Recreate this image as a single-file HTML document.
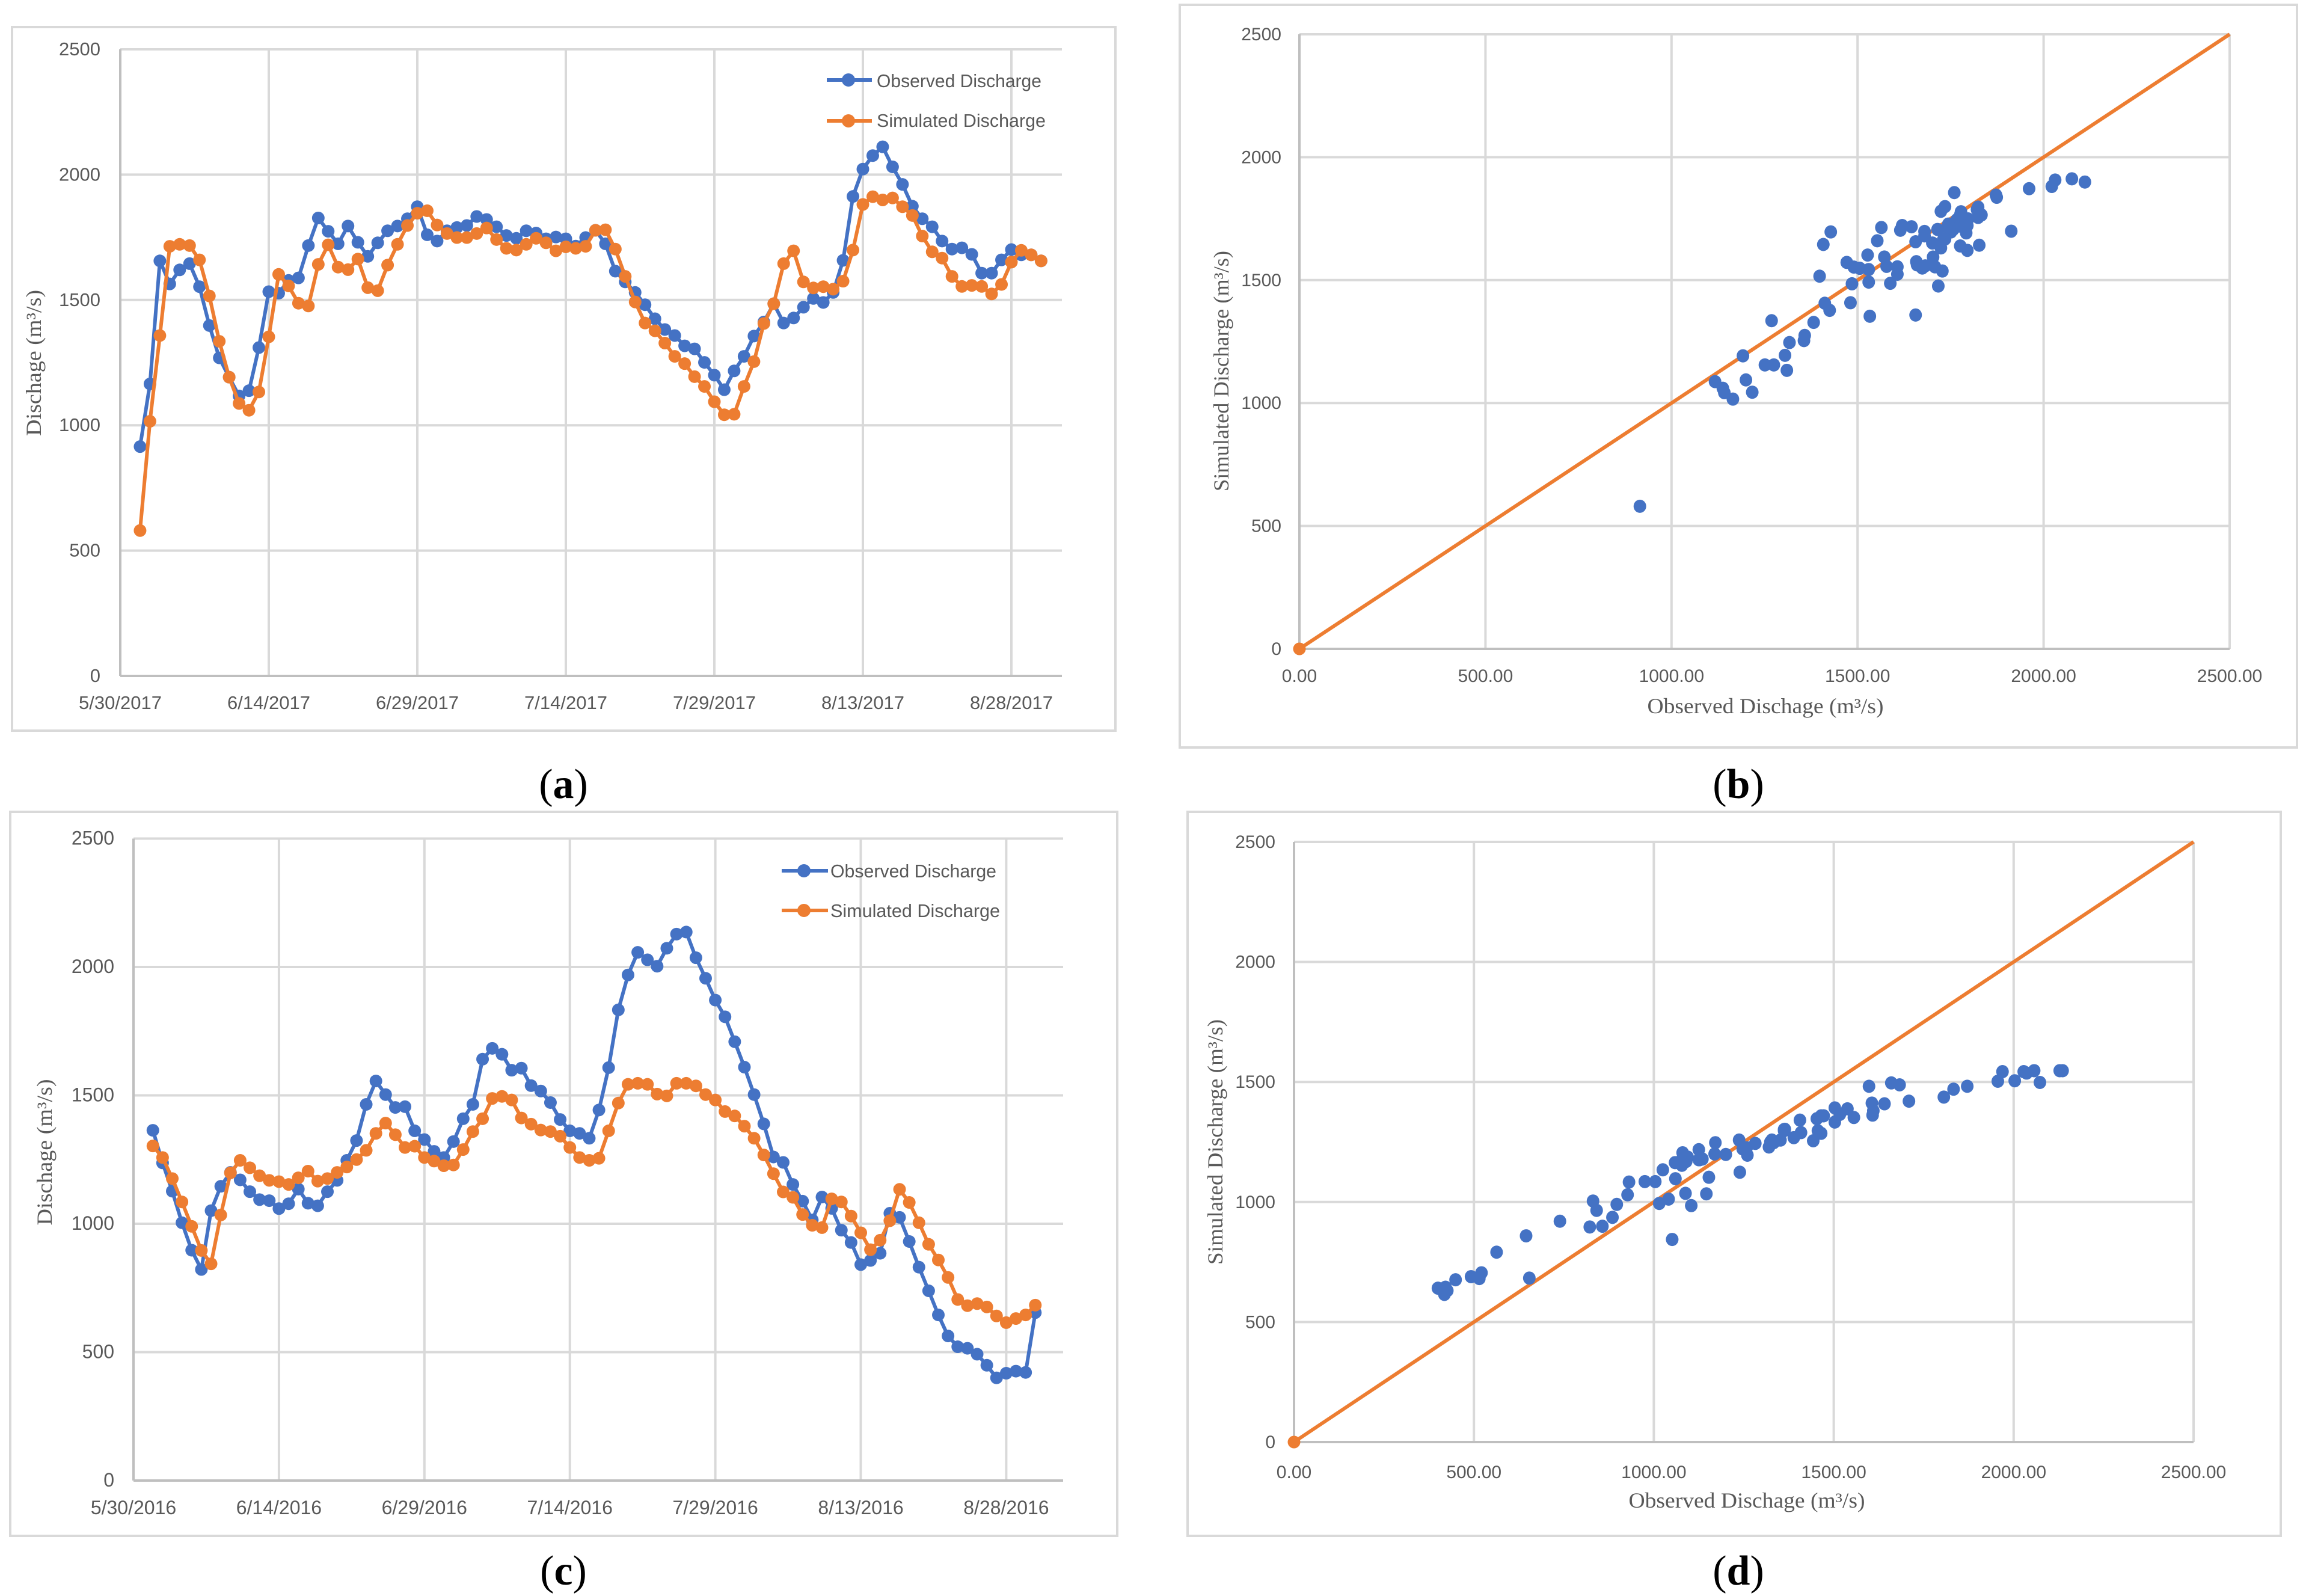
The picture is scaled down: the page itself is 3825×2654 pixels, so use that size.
<!DOCTYPE html>
<html lang="en">
<head>
<meta charset="utf-8">
<title>Observed and simulated discharge charts</title>
<style>
html,body{margin:0;padding:0;background:#fff;}
#figure{display:block;}
.tick{font-family:"Liberation Sans",sans-serif;fill:#595959;}
.axis-title{font-family:"Liberation Serif",serif;font-size:36px;fill:#595959;}
.legend-text{font-family:"Liberation Sans",sans-serif;font-size:31px;fill:#595959;}
.caption{font-family:"Liberation Serif",serif;font-size:70px;fill:#000;}
</style>
</head>
<body>
<svg id="figure" xmlns="http://www.w3.org/2000/svg" width="3825" height="2654" viewBox="0 0 3825 2654">
<rect x="0" y="0" width="3825" height="2654" fill="#fff"/>

<g id="panel-a">
<rect x="20" y="45" width="1835" height="1170" fill="#fff" stroke="#D9D9D9" stroke-width="4"/>
<text class="axis-title" transform="translate(68 603.5) rotate(-90)" text-anchor="middle" textLength="243" lengthAdjust="spacingAndGlyphs">Dischage (m³/s)</text>
<g id="panel-a-marks"></g>
<g>
<g>
<line x1="1375" x2="1450" y1="133" y2="133" stroke="#4472C4" stroke-width="6"/><circle cx="1411" cy="133" r="11" fill="#4472C4"/>
<text class="legend-text" x="1458" y="145" textLength="274" lengthAdjust="spacingAndGlyphs">Observed Discharge</text></g>
<g>
<line x1="1375" x2="1450" y1="201" y2="201" stroke="#ED7D31" stroke-width="6"/><circle cx="1411" cy="201" r="11" fill="#ED7D31"/>
<text class="legend-text" x="1458" y="211" textLength="281" lengthAdjust="spacingAndGlyphs">Simulated Discharge</text></g>
</g>
<text class="caption" x="937" y="1327" text-anchor="middle">(<tspan font-weight="bold">a</tspan>)</text>
</g>

<g id="panel-b">
<rect x="1962" y="8" width="1858" height="1235" fill="#fff" stroke="#D9D9D9" stroke-width="4"/>
<text class="axis-title" transform="translate(2043 617) rotate(-90)" text-anchor="middle" textLength="400" lengthAdjust="spacingAndGlyphs">Simulated Discharge (m³/s)</text>
<text class="axis-title" x="2936" y="1186" text-anchor="middle" textLength="393" lengthAdjust="spacingAndGlyphs">Observed Dischage (m³/s)</text>
<g id="panel-b-marks"></g>
<text class="caption" x="2891" y="1327" text-anchor="middle">(<tspan font-weight="bold">b</tspan>)</text>
</g>

<g id="panel-c">
<rect x="17" y="1350" width="1841" height="1204" fill="#fff" stroke="#D9D9D9" stroke-width="4"/>
<text class="axis-title" transform="translate(86 1916) rotate(-90)" text-anchor="middle" textLength="243" lengthAdjust="spacingAndGlyphs">Dischage (m³/s)</text>
<g id="panel-c-marks"></g>
<g>
<g>
<line x1="1300" x2="1377" y1="1448" y2="1448" stroke="#4472C4" stroke-width="6"/><circle cx="1337" cy="1448" r="11" fill="#4472C4"/>
<text class="legend-text" x="1381" y="1459" textLength="276" lengthAdjust="spacingAndGlyphs">Observed Discharge</text></g>
<g>
<line x1="1300" x2="1377" y1="1514" y2="1514" stroke="#ED7D31" stroke-width="6"/><circle cx="1337" cy="1514" r="11" fill="#ED7D31"/>
<text class="legend-text" x="1381" y="1525" textLength="282" lengthAdjust="spacingAndGlyphs">Simulated Discharge</text></g>
</g>
<text class="caption" x="937" y="2635" text-anchor="middle">(<tspan font-weight="bold">c</tspan>)</text>
</g>

<g id="panel-d">
<rect x="1975" y="1350" width="1818" height="1204" fill="#fff" stroke="#D9D9D9" stroke-width="4"/>
<text class="axis-title" transform="translate(2033 1899) rotate(-90)" text-anchor="middle" textLength="408" lengthAdjust="spacingAndGlyphs">Simulated Discharge (m³/s)</text>
<text class="axis-title" x="2905" y="2507" text-anchor="middle" textLength="393" lengthAdjust="spacingAndGlyphs">Observed Dischage (m³/s)</text>
<g id="panel-d-marks"></g>
<text class="caption" x="2891" y="2635" text-anchor="middle">(<tspan font-weight="bold">d</tspan>)</text>
</g>
</svg>

<script>
var observed2017 = [915,1165,1656,1564,1620,1645,1553,1398,1269,1192,1117,1138,1310,1533,1527,1578,1588,1717,1827,1774,1724,1795,1730,1674,1728,1776,1795,1824,1872,1760,1735,1776,1789,1797,1833,1821,1792,1757,1746,1776,1767,1744,1751,1744,1715,1749,1778,1724,1615,1572,1530,1481,1425,1382,1358,1317,1305,1251,1200,1142,1217,1275,1356,1412,1485,1408,1428,1471,1506,1490,1530,1658,1913,2022,2076,2111,2031,1961,1874,1824,1792,1735,1703,1708,1682,1607,1607,1660,1701,1680,1680,1656];
var simulated2017 = [580,1016,1358,1714,1722,1717,1660,1516,1335,1192,1087,1060,1133,1353,1602,1556,1487,1476,1642,1720,1631,1621,1663,1549,1537,1639,1722,1797,1846,1856,1799,1765,1749,1749,1765,1787,1741,1706,1699,1722,1746,1728,1696,1712,1706,1714,1778,1780,1703,1594,1492,1408,1377,1328,1275,1246,1194,1155,1094,1042,1044,1155,1254,1406,1485,1645,1696,1572,1548,1553,1543,1575,1699,1881,1912,1899,1907,1872,1837,1755,1692,1667,1594,1554,1558,1554,1524,1562,1651,1698,1680,1656];
var observed2016 = [1364,1237,1127,1004,897,822,1051,1146,1200,1171,1125,1094,1090,1059,1078,1135,1080,1070,1125,1169,1247,1324,1465,1556,1503,1453,1456,1362,1328,1282,1258,1320,1409,1465,1641,1683,1660,1598,1606,1538,1517,1472,1406,1362,1352,1333,1443,1608,1833,1969,2057,2028,2003,2073,2128,2136,2036,1956,1871,1806,1709,1610,1503,1389,1260,1239,1153,1088,1015,1104,1060,975,927,841,857,885,1041,1025,931,831,739,645,563,521,515,492,449,400,418,426,421,654];
var simulated2016 = [1303,1258,1176,1085,990,896,844,1034,1198,1247,1218,1187,1169,1164,1153,1179,1205,1166,1176,1200,1221,1250,1286,1352,1392,1347,1297,1302,1258,1244,1226,1229,1289,1359,1409,1488,1496,1482,1412,1388,1365,1359,1341,1297,1258,1247,1255,1362,1470,1543,1547,1543,1505,1498,1547,1547,1537,1503,1482,1437,1420,1380,1333,1268,1195,1124,1103,1036,994,985,1097,1085,1030,965,899,936,1012,1134,1083,1004,920,859,791,705,681,689,676,641,615,631,645,683];
var identityLine = [0,2500];
var yTickValues = [0,500,1000,1500,2000,2500];
var yTickLabels = ["0","500","1000","1500","2000","2500"];
var scatterXTickValues = [0,500,1000,1500,2000,2500];
var scatterXTickLabels = ["0.00","500.00","1000.00","1500.00","2000.00","2500.00"];
var dateTickDays = [0,15,30,45,60,75,90];
var dateTickLabels2017 = ["5/30/2017","6/14/2017","6/29/2017","7/14/2017","7/29/2017","8/13/2017","8/28/2017"];
var dateTickLabels2016 = ["5/30/2016","6/14/2016","6/29/2016","7/14/2016","7/29/2016","8/13/2016","8/28/2016"];
var firstSampleDay = 2;

var NS = "http://www.w3.org/2000/svg";
var BLUE = "#4472C4", ORANGE = "#ED7D31", GRID = "#D9D9D9", AXIS = "#BFBFBF";

function make(parent, tag, attrs, text) {
  var el = document.createElementNS(NS, tag);
  for (var k in attrs) { el.setAttribute(k, attrs[k]); }
  if (text !== undefined) { el.textContent = text; }
  parent.appendChild(el);
  return el;
}

function linearScale(d0, d1, r0, r1) {
  return function (v) { return r0 + (v - d0) * (r1 - r0) / (d1 - d0); };
}

function drawGridAndAxes(root, cfg, xVals, xLabels, xScale, yScale) {
  var i, el;
  for (i = 0; i < yTickValues.length; i++) {
    var yy = yScale(yTickValues[i]);
    if (yTickValues[i] !== 0) {
      el = make(root, "line", {x1: cfg.left, x2: cfg.right, y1: yy, y2: yy, stroke: GRID, "stroke-width": 4});
      
      
    }
    el = make(root, "text", {"class": "tick", x: cfg.yLabelRight, y: yy + 10, "text-anchor": "end", "font-size": cfg.font}, yTickLabels[i]);
    
    
  }
  for (i = 0; i < xVals.length; i++) {
    var xx = xScale(xVals[i]);
    if (i !== 0) {
      el = make(root, "line", {x1: xx, x2: xx, y1: cfg.top, y2: cfg.bottom, stroke: GRID, "stroke-width": 4});
      
      
    }
    el = make(root, "text", {"class": "tick", x: xx, y: cfg.xLabelBase, "text-anchor": "middle", "font-size": cfg.font}, xLabels[i]);
    
    
  }
  el = make(root, "line", {x1: cfg.left, x2: cfg.left, y1: cfg.top, y2: cfg.bottom, stroke: AXIS, "stroke-width": 4});
  
  
  el = make(root, "line", {x1: cfg.left, x2: cfg.right, y1: cfg.bottom, y2: cfg.bottom, stroke: AXIS, "stroke-width": 4});
  
  
}

function drawLineSeries(root, values, color, name, xScale, yScale) {
  var pts = [];
  for (var i = 0; i < values.length; i++) {
    pts.push(xScale(i + firstSampleDay).toFixed(1) + "," + yScale(values[i]).toFixed(1));
  }
  var line = make(root, "polyline", {points: pts.join(" "), fill: "none", stroke: color, "stroke-width": 6, "stroke-linejoin": "round"});
  
  
  for (var j = 0; j < values.length; j++) {
    var dot = make(root, "ellipse", {cx: xScale(j + firstSampleDay), cy: yScale(values[j]), rx: 10.5, ry: 10.5, fill: color});
    
    
  }
}

function drawScatter(root, xs, ys, xScale, yScale) {
  var line = make(root, "line", {x1: xScale(identityLine[0]), y1: yScale(identityLine[0]), x2: xScale(identityLine[1]), y2: yScale(identityLine[1]), stroke: ORANGE, "stroke-width": 6});
  
  
  var origin = make(root, "circle", {cx: xScale(identityLine[0]), cy: yScale(identityLine[0]), r: 10.5, fill: ORANGE});
  
  
  for (var i = 0; i < xs.length; i++) {
    var dot = make(root, "ellipse", {cx: xScale(xs[i]), cy: yScale(ys[i]), rx: 10.5, ry: 11, fill: BLUE});
    
    
  }
}

function timePanel(id, cfg, dateLabels, obs, sim) {
  var root = document.getElementById(id);
  var xScale = linearScale(0, 15, cfg.left, cfg.left + cfg.dayStep15);
  var yScale = linearScale(0, 2500, cfg.bottom, cfg.top);
  drawGridAndAxes(root, cfg, dateTickDays, dateLabels, xScale, yScale);
  drawLineSeries(root, obs, BLUE, 'observed-discharge', xScale, yScale);
  drawLineSeries(root, sim, ORANGE, 'simulated-discharge', xScale, yScale);
}

function scatterPanel(id, cfg, obs, sim) {
  var root = document.getElementById(id);
  var xScale = linearScale(0, 2500, cfg.left, cfg.right);
  var yScale = linearScale(0, 2500, cfg.bottom, cfg.top);
  drawGridAndAxes(root, cfg, scatterXTickValues, scatterXTickLabels, xScale, yScale);
  drawScatter(root, obs, sim, xScale, yScale);
}

timePanel("panel-a-marks", {left: 200, right: 1766, top: 82, bottom: 1124, dayStep15: 247, yLabelRight: 167, xLabelBase: 1179, font: 31}, dateTickLabels2017, observed2017, simulated2017);
timePanel("panel-c-marks", {left: 222, right: 1768, top: 1394.5, bottom: 2462, dayStep15: 241.9, yLabelRight: 190, xLabelBase: 2518, font: 32}, dateTickLabels2016, observed2016, simulated2016);
scatterPanel("panel-b-marks", {left: 2161, right: 3708, top: 57, bottom: 1079, yLabelRight: 2131, xLabelBase: 1134, font: 30}, observed2017, simulated2017);
scatterPanel("panel-d-marks", {left: 2152, right: 3648, top: 1400, bottom: 2398, yLabelRight: 2121, xLabelBase: 2458, font: 30}, observed2016, simulated2016);
</script>
</body>
</html>
